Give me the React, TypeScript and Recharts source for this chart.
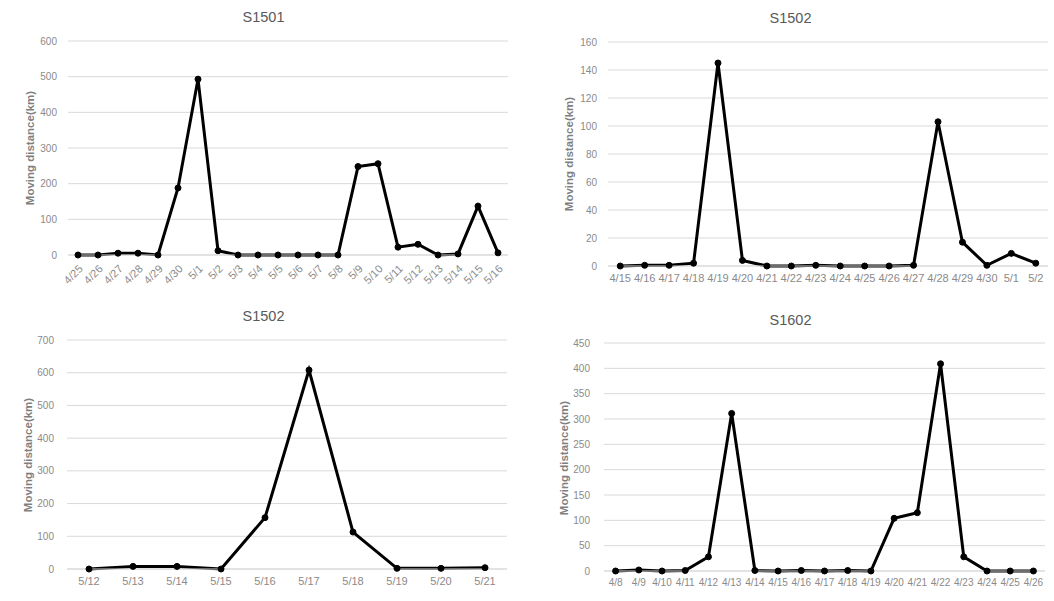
import React from 'react'
import { LineChart, Line, XAxis, YAxis, CartesianGrid } from 'recharts'

// S1501 (top left)
const days1501 = ['4/25', '4/26', '4/27', '4/28', '4/29', '4/30', '5/1', '5/2', '5/3', '5/4', '5/5', '5/6', '5/7', '5/8', '5/9', '5/10', '5/11', '5/12', '5/13', '5/14', '5/15', '5/16']
const dist1501 = [0, 0, 5, 5, 0, 188, 493, 12, 0, 0, 0, 0, 0, 0, 248, 256, 22, 30, 0, 3, 137, 6]
const ticks1501 = [0, 100, 200, 300, 400, 500, 600]

// S1502 (top right)
const days1502a = ['4/15', '4/16', '4/17', '4/18', '4/19', '4/20', '4/21', '4/22', '4/23', '4/24', '4/25', '4/26', '4/27', '4/28', '4/29', '4/30', '5/1', '5/2']
const dist1502a = [0, 0.5, 0.5, 2, 145, 4, 0, 0, 0.5, 0, 0, 0, 0.5, 103, 17, 0.5, 9, 2]
const ticks1502a = [0, 20, 40, 60, 80, 100, 120, 140, 160]

// S1502 (bottom left)
const days1502b = ['5/12', '5/13', '5/14', '5/15', '5/16', '5/17', '5/18', '5/19', '5/20', '5/21']
const dist1502b = [0, 8, 8, 0, 157, 608, 113, 2, 2, 4]
const ticks1502b = [0, 100, 200, 300, 400, 500, 600, 700]

// S1602 (bottom right)
const days1602 = ['4/8', '4/9', '4/10', '4/11', '4/12', '4/13', '4/14', '4/15', '4/16', '4/17', '4/18', '4/19', '4/20', '4/21', '4/22', '4/23', '4/24', '4/25', '4/26']
const dist1602 = [0, 2, 0, 1, 28, 311, 1, 0, 1, 0, 1, 0, 104, 115, 409, 28, 0, 0, 0]
const ticks1602 = [0, 50, 100, 150, 200, 250, 300, 350, 400, 450]

const FONT = '"Liberation Sans", Arial, sans-serif'
const GRID = '#d9d9d9'
const TICK = '#8a8a8a'
const W = 527

interface PanelProps {
  title: string
  days: string[]
  values: number[]
  ticks: number[]
  left: number
  top: number
  height: number
  margin: { top: number; right: number; bottom: number; left: number }
  xHeight: number
  yWidth: number
  yTickMargin: number
  rotate?: boolean
  xFont: number
  titleY: number
  labelX: number
  labelY: number
}

function Panel(p: PanelProps) {
  const data = p.days.map((d, i) => ({ day: d, km: p.values[i] }))
  const max = p.ticks[p.ticks.length - 1]
  // Excel-style category axis: points sit in the middle of each band
  const plotW = W - p.margin.left - p.margin.right - p.yWidth
  const half = plotW / p.days.length / 2
  return (
    <div style={{ position: 'absolute', left: p.left, top: p.top, width: W, height: p.height }}>
      <div style={{
        position: 'absolute', left: 0, top: p.titleY - 10, width: W, textAlign: 'center',
        fontFamily: FONT, fontSize: 14.5, lineHeight: '20px', color: '#595959',
      }}>{p.title}</div>
      <div style={{
        position: 'absolute', left: p.labelX - 80, top: p.labelY - 8, width: 160, textAlign: 'center',
        fontFamily: FONT, fontSize: 11.5, fontWeight: 'bold', lineHeight: '16px', color: '#7f7f7f',
        transform: 'rotate(-90deg)',
      }}>Moving distance(km)</div>
      <LineChart width={W} height={p.height} data={data} margin={p.margin} style={{ position: 'absolute', left: 0, top: 0 }}>
        <CartesianGrid vertical={false} stroke={GRID} />
        <XAxis
          dataKey="day"
          interval={0}
          height={p.xHeight}
          padding={{ left: half, right: half }}
          tickLine={false}
          tickSize={0}
          tickMargin={p.rotate ? 9 : 8}
          axisLine={{ stroke: GRID }}
          angle={p.rotate ? -45 : 0}
          textAnchor={p.rotate ? 'end' : 'middle'}
          tick={{ fontSize: p.xFont, fill: TICK, fontFamily: FONT }}
        />
        <YAxis
          domain={[0, max]}
          ticks={p.ticks}
          interval={0}
          width={p.yWidth}
          tickSize={0}
          tickMargin={p.yTickMargin}
          axisLine={false}
          tickLine={false}
          tick={{ fontSize: 10, fill: TICK, fontFamily: FONT }}
        />
        <Line
          type="linear"
          dataKey="km"
          stroke="#000"
          strokeWidth={3}
          dot={{ r: 3, fill: '#000', stroke: '#000', strokeWidth: 1 }}
          isAnimationActive={false}
        />
      </LineChart>
    </div>
  )
}

export default function App() {
  return (
    <div style={{ position: 'absolute', left: 0, top: 0, width: 1054, height: 601, background: '#fff', overflow: 'hidden' }}>
      <Panel
        title="S1501" days={days1501} values={dist1501} ticks={ticks1501}
        left={0} top={0} height={300}
        margin={{ top: 41, right: 19, bottom: 5, left: 0 }} xHeight={40} yWidth={68} yTickMargin={11}
        rotate xFont={11} titleY={17} labelX={30} labelY={148}
      />
      <Panel
        title="S1502" days={days1502a} values={dist1502a} ticks={ticks1502a}
        left={527} top={0} height={300}
        margin={{ top: 42, right: 6, bottom: 4, left: 0 }} xHeight={30} yWidth={81} yTickMargin={11}
        xFont={11} titleY={18} labelX={42} labelY={154}
      />
      <Panel
        title="S1502" days={days1502b} values={dist1502b} ticks={ticks1502b}
        left={0} top={300} height={301}
        margin={{ top: 40, right: 20, bottom: 4, left: 0 }} xHeight={28} yWidth={67} yTickMargin={13}
        xFont={11} titleY={16} labelX={28} labelY={155}
      />
      <Panel
        title="S1602" days={days1602} values={dist1602} ticks={ticks1602}
        left={527} top={300} height={301}
        margin={{ top: 43, right: 9, bottom: 4, left: 0 }} xHeight={26} yWidth={77} yTickMargin={14}
        xFont={10} titleY={20} labelX={37} labelY={158}
      />
    </div>
  )
}
